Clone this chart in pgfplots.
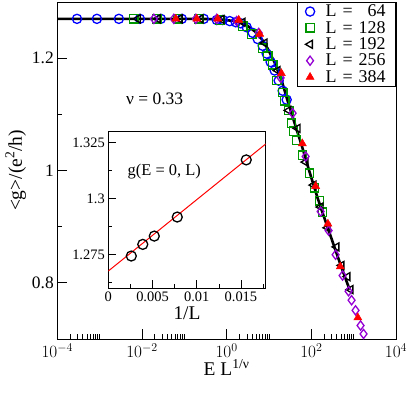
\documentclass[border=0pt]{standalone}
\usepackage{fontspec}
\setmainfont{Liberation Serif}
\usepackage{pgfplots}
\pgfplotsset{compat=1.18}

\definecolor{ggreen}{RGB}{0,150,0}
\definecolor{gviolet}{RGB}{148,0,211}

\begin{document}
\begin{tikzpicture}
\useasboundingbox (-57.3bp,-54bp) rectangle (351.7bp,339bp);
\begin{axis}[
    at={(0,0)}, anchor=south west,
    scale only axis, width=338.7bp, height=337bp,
    xmode=log, xmin=1e-4, xmax=1e4,
    ymin=0.7, ymax=1.3,
    xtick={1e-4,1e-2,1,1e2,1e4},
    xticklabels={$10^{-4}$,$10^{-2}$,$10^{0}$,$10^{2}$,$10^{4}$},
    minor xtick={2e-4,3e-4,4e-4,5e-4,6e-4,7e-4,8e-4,9e-4,1e-3,
                 2e-2,3e-2,4e-2,5e-2,6e-2,7e-2,8e-2,9e-2,1e-1,
                 2,3,4,5,6,7,8,9,10,
                 200,300,400,500,600,700,800,900,1000},
    ytick={0.8,1,1.2}, minor ytick={0.7,0.9,1.1},
    tick align=inside, xtick pos=bottom, ytick pos=left,
    major tick length=10bp, minor tick length=5bp,
    every tick/.style={black, line width=0.7pt},
    axis line style={line width=0.8pt},
    /pgf/number format/assume math mode=true,
    tick label style={font=\fontsize{17.5}{20}\selectfont},
    xticklabel style={yshift=-1bp},
    label style={font=\fontsize{19.5}{22}\selectfont},
    xlabel={E L\textsuperscript{1/ν}},
    xlabel style={yshift=5bp},
    ylabel={<g>/(e\textsuperscript{2}/h)},
    ylabel style={yshift=-1bp},
    legend cell align=left,
    legend style={at={(1,1)}, anchor=north east, draw=black, line width=0.7pt,
        font=\fontsize{18}{20}\selectfont,
        nodes={inner ysep=1.5bp},
        row sep=0bp, inner xsep=8bp, inner ysep=1bp,
        legend image post style={line width=1.3pt},
        /tikz/every odd column/.append style={column sep=9bp},
        /tikz/every even column/.append style={text width=60bp}},
    mark size=4.6bp,
]
% scaling curve
\addplot[black, line width=2.6bp, forget plot] coordinates {
(1e-4,1.270)(0.232,1.270)(0.688,1.269)(1.55,1.266)(2.67,1.261)(4.60,1.248)
(6.73,1.234)(9.32,1.217)(13.63,1.192)(19.93,1.160)(27.6,1.124)(40.4,1.084)
(59.05,1.045)(91.2,0.997)(140.8,0.951)(217.4,0.909)(335.7,0.868)(518.3,0.827)(800.6,0.788)};

\addplot[only marks, mark=o, blue, mark options={line width=1.3pt}] coordinates {
(2.92e-4,1.270)(8.63e-4,1.270)(2.85e-3,1.270)(8.92e-3,1.270)(2.79e-2,1.270)
(8.73e-2,1.270)(0.288,1.270)(0.584,1.268)(0.809,1.268)(1.18,1.266)(1.64,1.264)
(2.15,1.262)(2.98,1.255)(4.13,1.245)(5.41,1.234)(7.10,1.222)(8.83,1.208)
(10.97,1.193)(13.63,1.178)(16.93,1.160)(21.04,1.142)(26.15,1.126)};
\addlegendentry{L = \phantom{1}64}

\addplot[only marks, mark=square, ggreen, mark size=4.2bp, mark options={line width=1.3pt}] coordinates {
(6.44e-3,1.270)(2.25e-2,1.270)(7.03e-2,1.270)(0.220,1.270)(0.688,1.268)
(2.40,1.257)(3.91,1.243)(7.10,1.218)(9.32,1.204)(12.23,1.188)(15.19,1.160)
(21.04,1.139)(23.46,1.124)(29.15,1.107)(34.30,1.084)(38.23,1.070)(45.01,1.054)
(62.35,1.027)(91.2,0.995)(119.6,0.969)(157.0,0.946)(184.8,0.926)};
\addlegendentry{L = 128}

\addplot[only marks, mark=triangle, black, mark options={rotate=90, line width=1.3pt}] coordinates {
(8.00e-3,1.270)(2.37e-2,1.270)(7.83e-2,1.270)(0.245,1.270)(0.766,1.269)
(2.40,1.264)(7.92,1.227)(16.04,1.178)(29.15,1.107)(47.5,1.075)(73.4,1.015)
(113.3,0.974)(165.7,0.935)(242.3,0.898)(395.0,0.864)(518.3,0.831)(717.9,0.811)(845.3,0.788)};
\addlegendentry{L = 192}

\addplot[only marks, mark=diamond, gviolet, mark options={line width=1.3pt}] coordinates {
(1.91e-2,1.270)(5.65e-2,1.270)(0.187,1.270)(0.584,1.270)(1.73,1.266)
(5.72,1.245)(18.88,1.165)(36.2,1.102)(73.4,1.025)(165.7,0.927)(255.9,0.893)
(374.2,0.850)(547.2,0.813)(758.0,0.785)(892.4,0.769)(1108.6,0.751)(1454.5,0.724)(1712,0.709)};
\addlegendentry{L = 256}

\addplot[only marks, mark=triangle*, red, mark options={line width=0.5pt}] coordinates {
(6.30e-2,1.270)(0.197,1.270)(0.617,1.270)(1.93,1.268)(6.04,1.243)(19.61,1.173)
(61.33,1.048)(126.3,0.972)(246.3,0.905)(483.1,0.829)(1256,0.738)};
\addlegendentry{L = 384}

\node[anchor=west, font=\fontsize{17.5}{20}\selectfont] at (axis cs:3.5e-3,1.128) {ν = 0.33};
\end{axis}

\begin{axis}[
    at={(51bp,50.7bp)}, anchor=south west,
    scale only axis, width=157.4bp, height=157.3bp,
    axis background/.style={fill=white},
    xmin=0, xmax=0.0178, ymin=1.26, ymax=1.3302,
    xtick={0,0.005,0.01,0.015}, minor xtick={0.0025,0.0075,0.0125,0.0175},
    ytick={1.275,1.3,1.325}, minor ytick={1.2625,1.2875,1.3125},
    scaled x ticks=false, scaled y ticks=false,
    xticklabel style={/pgf/number format/fixed, /pgf/number format/precision=3},
    yticklabel style={/pgf/number format/fixed, /pgf/number format/precision=3},
    tick align=inside, xtick pos=bottom, ytick pos=left,
    major tick length=8bp, minor tick length=4bp,
    every tick/.style={black, line width=0.6pt},
    axis line style={line width=0.7pt},
    /pgf/number format/assume math mode=true,
    tick label style={font=\fontsize{14.5}{16}\selectfont},
    xlabel={1/L}, xlabel style={font=\fontsize{19.5}{22}\selectfont, yshift=1.5bp},
]
\addplot[red, line width=1pt] coordinates {(0,1.2677)(0.0178,1.3244)};
\addplot[only marks, mark=o, black, mark size=5bp, mark options={line width=1.3pt}] coordinates {
(0.0026,1.2744)(0.0039,1.2796)(0.0052,1.2833)(0.0078,1.2918)(0.0156,1.3173)};
\node[anchor=west, font=\fontsize{16.5}{18}\selectfont] at (axis cs:0.0018,1.312) {g(E = 0, L)};
\end{axis}
\end{tikzpicture}
\end{document}
